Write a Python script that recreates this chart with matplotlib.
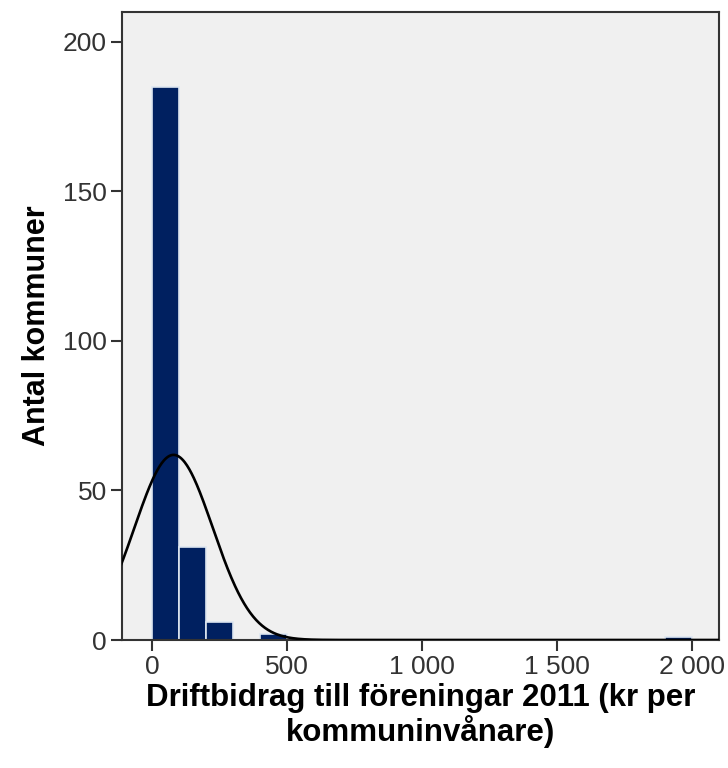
import numpy as np
import matplotlib
matplotlib.use("Agg")
import matplotlib.pyplot as plt

bin_left = [0, 100, 200, 300, 400, 1900]
counts = [185, 31, 6, 0, 2, 1]
bin_width = 100
n_total = sum(counts)
mean_val = 80
sd_val = 145

xticks = [0, 500, 1000, 1500, 2000]
xtick_labels = ["0", "500", "1 000", "1 500", "2 000"]
yticks = [0, 50, 100, 150, 200]

plt.rcParams['font.family'] = ['Liberation Sans', 'DejaVu Sans']

fig = plt.figure(figsize=(7.28, 7.68), dpi=100)
ax = fig.add_axes([122/728, 1-640/768, (719-122)/728, (640-12)/768])
ax.set_facecolor('#f0f0f0')

ax.bar(bin_left, counts, width=bin_width, align='edge', color='#002060',
       edgecolor='#dde6f0', linewidth=1.2, zorder=2)

xs = np.linspace(-120, 2100, 800)
ys = n_total * bin_width / (sd_val * np.sqrt(2*np.pi)) * np.exp(-0.5*((xs-mean_val)/sd_val)**2)
ax.plot(xs, ys, color='black', linewidth=1.9, zorder=3)

ax.set_xlim(-111, 2100)
ax.set_ylim(0, 210)
ax.set_xticks(xticks)
ax.set_xticklabels(xtick_labels)
ax.set_yticks(yticks)
for s in ax.spines.values():
    s.set_color('#333333')
    s.set_linewidth(1.5)
ax.tick_params(axis='both', length=8, width=1.5, color='#333333', labelsize=19,
               labelcolor='#333333', pad=3)
ax.set_xlabel("Driftbidrag till föreningar 2011 (kr per\nkommuninvånare)",
              fontsize=22.5, fontweight='bold', linespacing=1.05, labelpad=3)
ax.set_ylabel("Antal kommuner", fontsize=22, fontweight='bold', labelpad=8)

fig.savefig("out.png", dpi=100)
